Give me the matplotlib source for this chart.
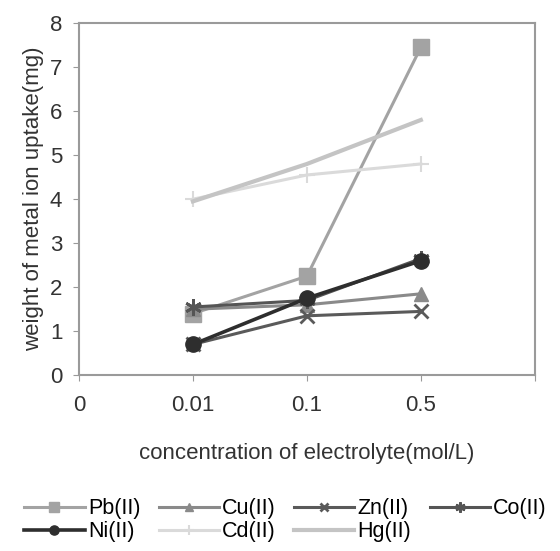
import matplotlib.pyplot as plt

# categories on x axis (evenly spaced)
x_labels = ['0', '0.01', '0.1', '0.5', '']
x_pos = [1, 2, 3]

pb = [1.4, 2.25, 7.45]
cu = [1.5, 1.6, 1.85]
zn = [0.7, 1.35, 1.45]
co = [1.55, 1.7, 2.65]
ni = [0.7, 1.75, 2.6]
cd = [4.0, 4.55, 4.8]
hg = [3.95, 4.8, 5.8]

plt.rcParams['font.family'] = ['Liberation Sans', 'DejaVu Sans']

fig = plt.figure(figsize=(5.6, 5.51), dpi=100)
ax = fig.add_axes([0.141, 0.319, 0.814, 0.639])

h_pb, = ax.plot(x_pos, pb, color='#a3a3a3', lw=2.2, marker='s', ms=12, label='Pb(II)')
h_cu, = ax.plot(x_pos, cu, color='#8a8a8a', lw=2.2, marker='^', ms=10, label='Cu(II)')
h_zn, = ax.plot(x_pos, zn, color='#5a5a5a', lw=2.2, marker='x', ms=10, mew=2, label='Zn(II)')
h_co, = ax.plot(x_pos, co, color='#555555', lw=2.2, marker=(6, 2, 0), ms=12, mew=2, label='Co(II)')
h_ni, = ax.plot(x_pos, ni, color='#2e2e2e', lw=2.6, marker='o', ms=11, label='Ni(II)')
h_cd, = ax.plot(x_pos, cd, color='#dadada', lw=2.2, marker='+', ms=12, mew=1.5, label='Cd(II)')
h_hg, = ax.plot(x_pos, hg, color='#c4c4c4', lw=3, label='Hg(II)')

ax.set_xlim(0, 4)
ax.set_ylim(0, 8)
ax.set_xticks(range(5))
ax.set_xticklabels(x_labels)
ax.set_yticks(range(9))
ax.tick_params(labelsize=16, colors='#333333', length=4, direction='out')
ax.tick_params(axis='both', color='#999999')
ax.tick_params(axis='x', pad=10)
ax.tick_params(axis='y', pad=8)
for s in ax.spines.values():
    s.set_color('#9a9a9a')
    s.set_linewidth(1.5)

ax.set_ylabel('weight of metal ion uptake(mg)', fontsize=16, color='#333333', labelpad=4)
ax.set_xlabel('concentration of electrolyte(mol/L)', fontsize=16, color='#333333', labelpad=20)

handles = [h_pb, h_ni, h_cu, h_cd, h_zn, h_hg, h_co]
fig.legend(handles=handles, labels=[h.get_label() for h in handles], ncol=4,
           loc='center', bbox_to_anchor=(0.51, 0.056), frameon=False, fontsize=15.5,
           handlelength=2.8, handletextpad=0.15, columnspacing=0.85, labelspacing=0.1,
           markerscale=0.6)

fig.savefig('out.png', dpi=100)
